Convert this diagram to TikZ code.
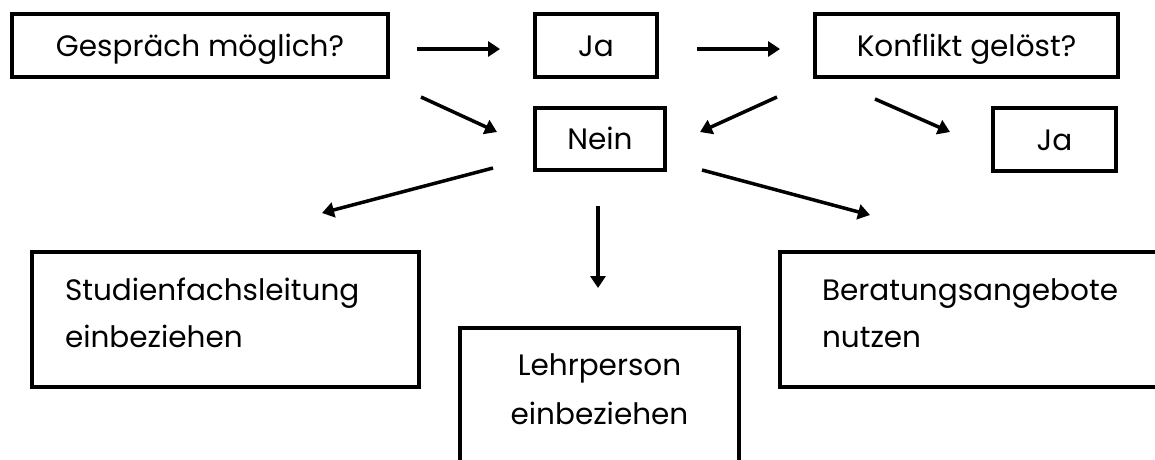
\documentclass[tikz,border=0pt]{standalone}
\usepackage{fontspec}
\setmainfont{Poppins}
\usetikzlibrary{arrows.meta}
\begin{document}
\begin{tikzpicture}[x=1pt,y=-1pt,
  box/.style={draw=black, line width=4pt, rectangle, inner sep=0pt, font=\fontsize{29.5}{47}\selectfont},
  smallbox/.style={box, text height=21pt, text depth=0pt, minimum height=63pt},
  bigbox/.style={box, anchor=north west, inner ysep=0pt},
  arr/.style={draw=black, line width=3.5pt, -{Triangle[length=12pt,width=15pt]}},
]
\clip (0,0) rectangle (1155,459);
\fill[white] (0,0) rectangle (1155,459);

% small boxes
\node[smallbox, minimum width=376pt] (q1) at (200,45.5) {Gespräch möglich?};
\node[smallbox, minimum width=122pt] (ja1) at (596,45.5) {Ja};
\node[smallbox, minimum width=303pt] (q2) at (966.5,45.5) {Konflikt gelöst?};
\node[smallbox, minimum width=130pt, minimum height=62pt] (nein) at (600,139) {Nein};
\node[smallbox, minimum width=123pt] (ja2) at (1054.5,139.5) {Ja};

% big boxes
\node[bigbox, inner xsep=33pt, text width=321pt, align=left, text height=48pt, text depth=87pt] (studien) at (30,250) {Studienfachsleitung\\einbeziehen};
\node[bigbox, inner xsep=0pt, text width=279pt, align=center, text height=47pt, text depth=147pt, font=\fontsize{29.5}{49}\selectfont] (lehr) at (458,326) {Lehrperson\\einbeziehen};
\node[bigbox, inner xsep=42pt, text width=338pt, align=left, text height=48pt, text depth=87pt] (berat) at (778,250) {Beratungsangebote\\nutzen};

% connector end points
\coordinate (a1s) at (417,49);  \coordinate (a1e) at (500,49);
\coordinate (a2s) at (697,49);  \coordinate (a2e) at (780,49);
\coordinate (a3s) at (421,97);  \coordinate (a3e) at (497,132);
\coordinate (a4s) at (777,97);  \coordinate (a4e) at (700,132);
\coordinate (a5s) at (875,99);  \coordinate (a5e) at (950,132);
\coordinate (a6s) at (493,168); \coordinate (a6e) at (322,213);
\coordinate (a7s) at (598,206); \coordinate (a7e) at (598,288);
\coordinate (a8s) at (702,170); \coordinate (a8e) at (870,215);

\draw[arr] (a1s) -- (a1e);
\draw[arr] (a2s) -- (a2e);
\draw[arr] (a3s) -- (a3e);
\draw[arr] (a4s) -- (a4e);
\draw[arr] (a5s) -- (a5e);
\draw[arr] (a6s) -- (a6e);
\draw[arr] (a7s) -- (a7e);
\draw[arr] (a8s) -- (a8e);
\end{tikzpicture}
\end{document}
